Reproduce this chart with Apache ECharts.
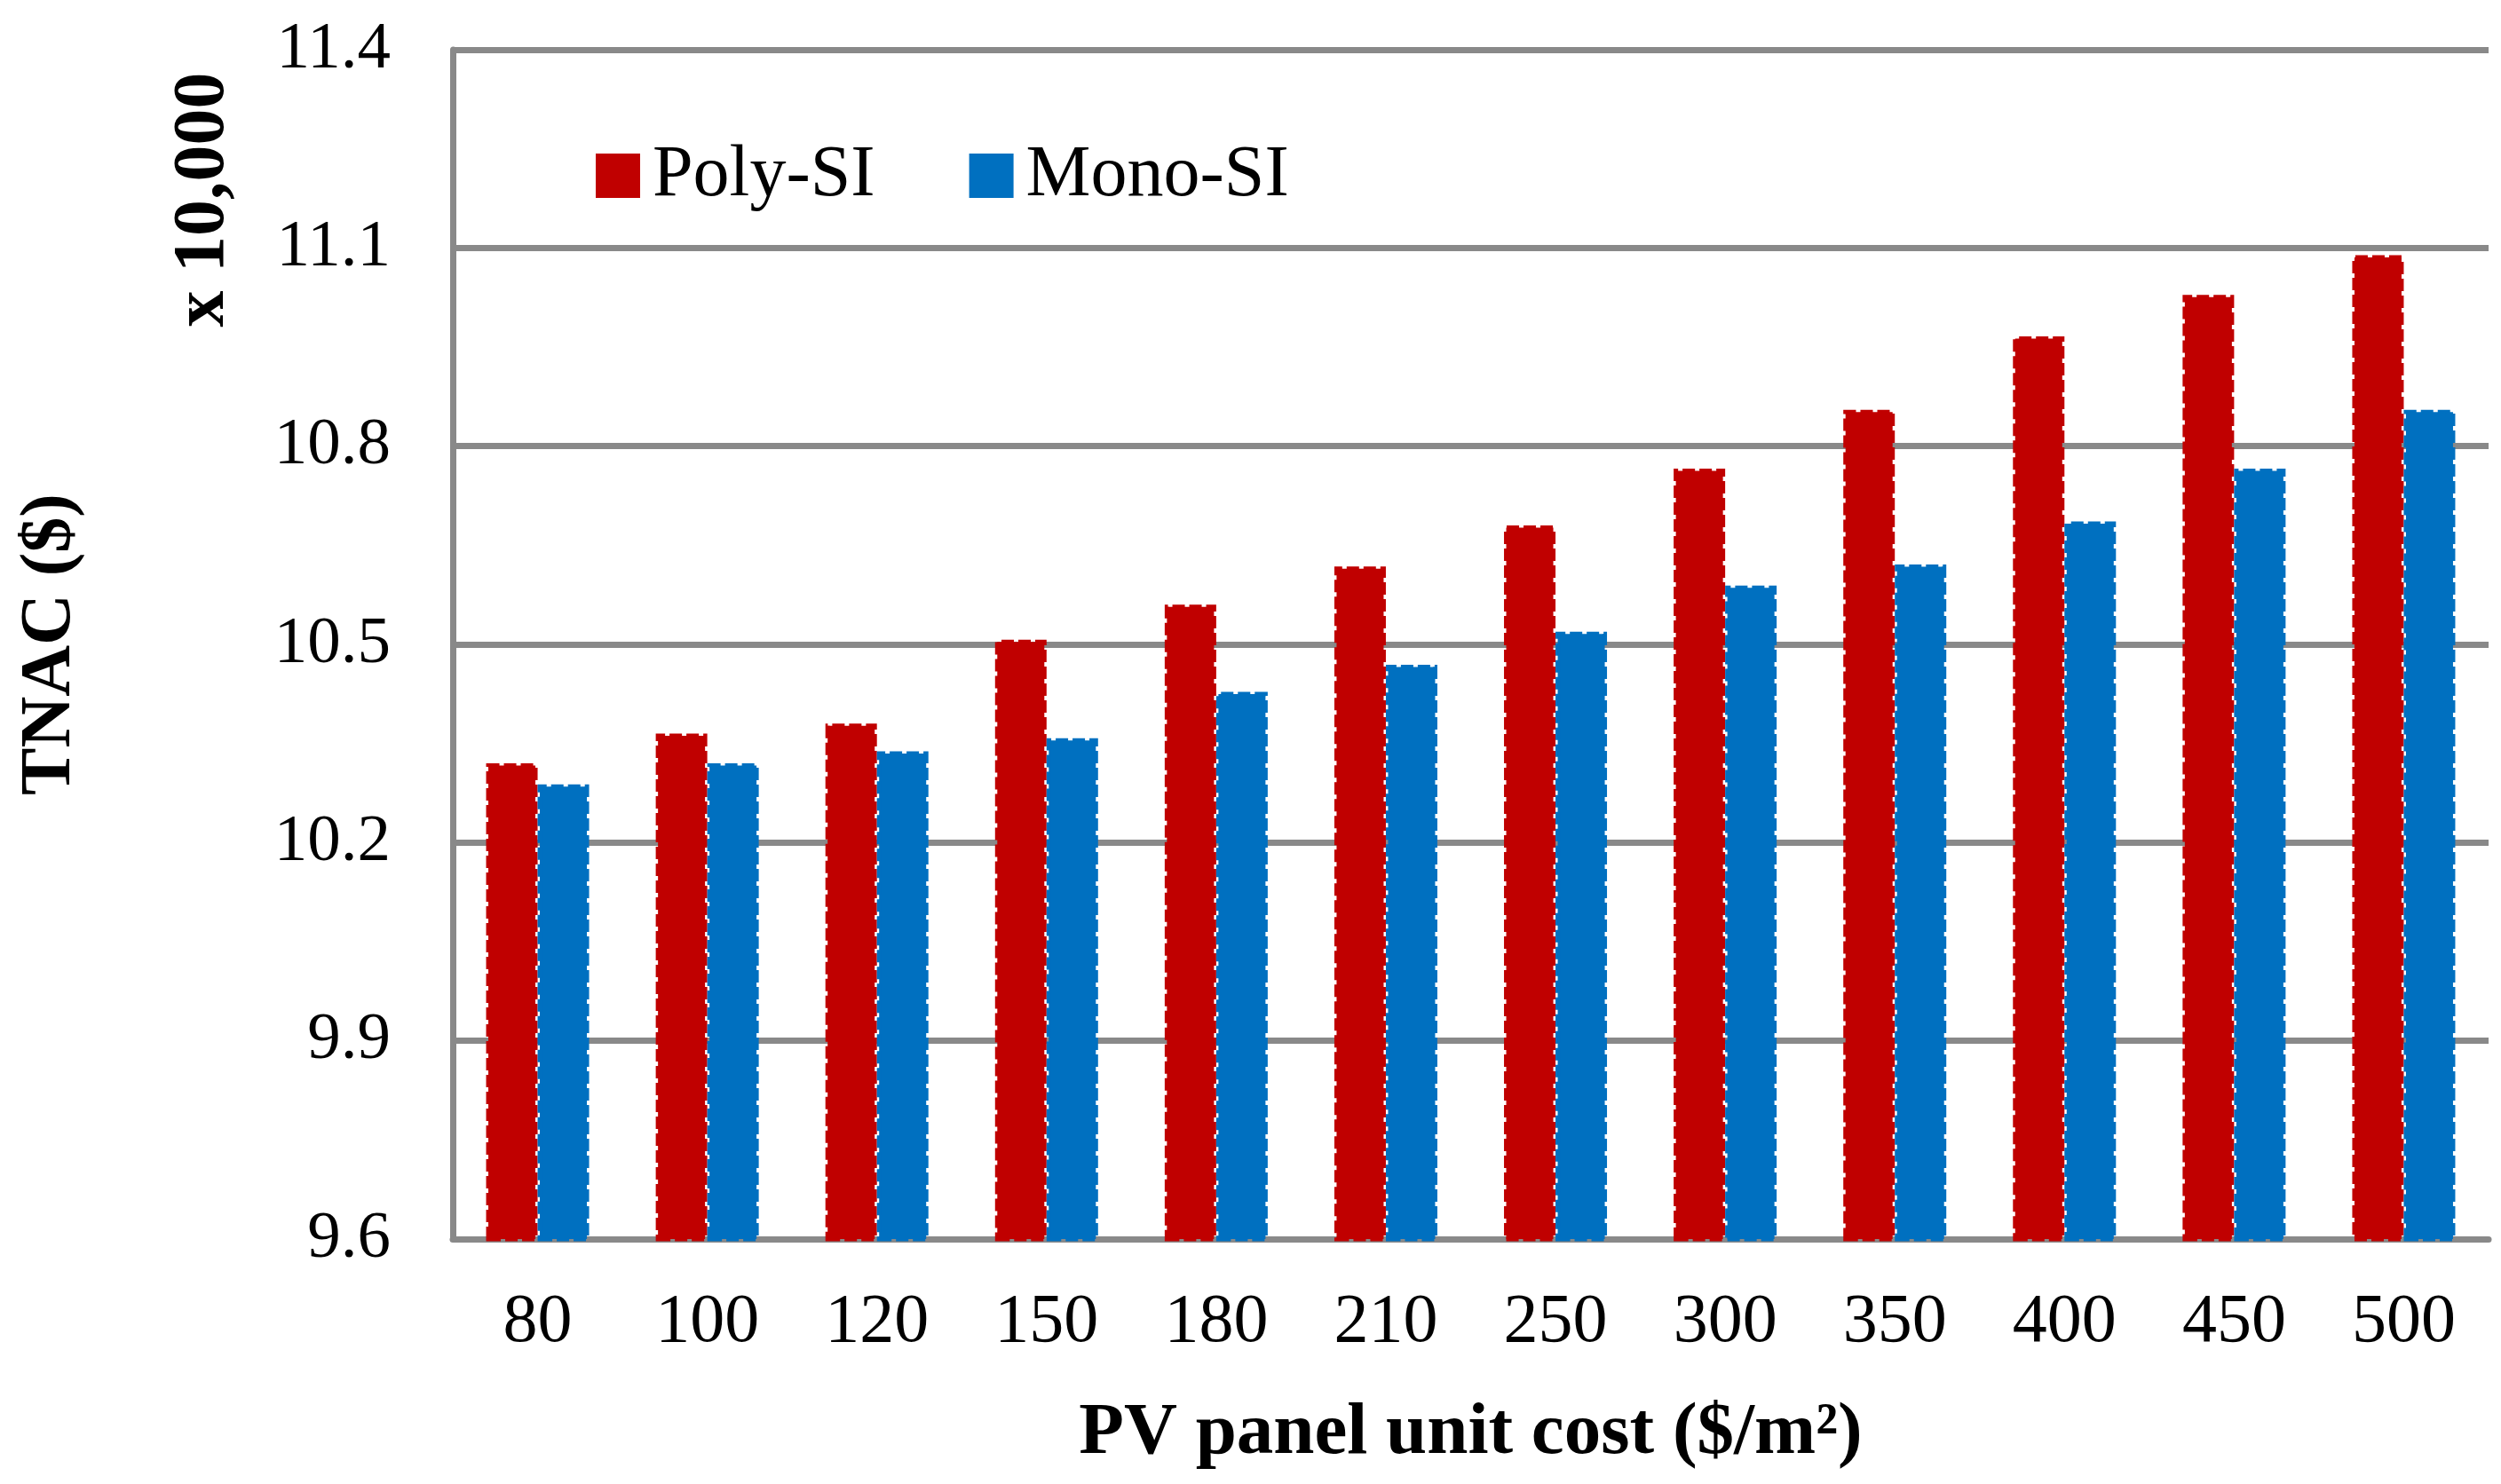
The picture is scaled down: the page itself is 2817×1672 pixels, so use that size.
<!DOCTYPE html>
<html>
<head>
<meta charset="utf-8">
<script src="https://cdn.jsdelivr.net/npm/echarts@6/dist/echarts.min.js"></script>
<style>
html,body{margin:0;padding:0;background:#fff;}
#chart{width:2817px;height:1672px;}
</style>
</head>
<body>
<div id="chart"></div>
<script>
const categories = ['80','100','120','150','180','210','250','300','350','400','450','500'];
const polySI = [10.32,10.365,10.38,10.507,10.56,10.618,10.68,10.766,10.855,10.966,11.029,11.089];
const monoSI = [10.288,10.32,10.338,10.358,10.428,10.469,10.519,10.589,10.621,10.686,10.766,10.855];
const yMin = 9.6, yMax = 11.4, yStep = 0.3;

const FONT = '"Liberation Serif","Times New Roman",serif';
const chart = echarts.init(document.getElementById('chart'), null, {renderer:'canvas'});
const barStyle = (c) => ({color:c, borderColor:c, borderWidth:5, borderType:[14,5]});
chart.setOption({
  animation:false,
  backgroundColor:'#fff',
  grid:{left:510, right:14, top:56, bottom:276, containLabel:false},
  legend:{
    left:666, top:152, itemWidth:48, itemHeight:48, itemGap:106,
    icon:'rect',
    textStyle:{fontFamily:FONT, fontSize:82, color:'#000', padding:[0,0,0,10]},
    data:['Poly-SI','Mono-SI']
  },
  xAxis:{
    type:'category', data:categories,
    axisLine:{lineStyle:{color:'#898989', width:7}},
    axisTick:{show:false},
    axisLabel:{fontFamily:FONT, fontSize:78, color:'#000', margin:56},
    name:'PV panel unit cost ($/m\u00B2)',
    nameLocation:'middle', nameGap:178,
    nameTextStyle:{fontFamily:FONT, fontSize:83, fontWeight:'bold', color:'#000'}
  },
  yAxis:{
    type:'value', min:yMin, max:yMax, interval:yStep,
    axisLine:{show:true, lineStyle:{color:'#898989', width:7}},
    axisTick:{show:false},
    splitLine:{lineStyle:{color:'#898989', width:7}},
    axisLabel:{fontFamily:FONT, fontSize:75, color:'#000', margin:70,
      formatter:(v)=>v.toFixed(1)}
  },
  series:[
    {name:'Poly-SI', type:'bar', data:polySI, barWidth:58, barGap:'0%', barCategoryGap:'38%', itemStyle:barStyle('#C00000')},
    {name:'Mono-SI', type:'bar', data:monoSI, barWidth:58, barGap:'0%', barCategoryGap:'38%', itemStyle:barStyle('#0070C0')}
  ],
  graphic:[
    {type:'text', x:57, y:726, rotation:Math.PI/2,
      style:{text:'TNAC ($)', font:'bold 80px '+FONT, fill:'#000', textAlign:'center', textVerticalAlign:'middle'}},
    {type:'text', x:230, y:225, rotation:Math.PI/2,
      style:{text:'x 10,000', font:'bold 82px '+FONT, fill:'#000', textAlign:'center', textVerticalAlign:'middle'}}
  ]
});
</script>
</body>
</html>
